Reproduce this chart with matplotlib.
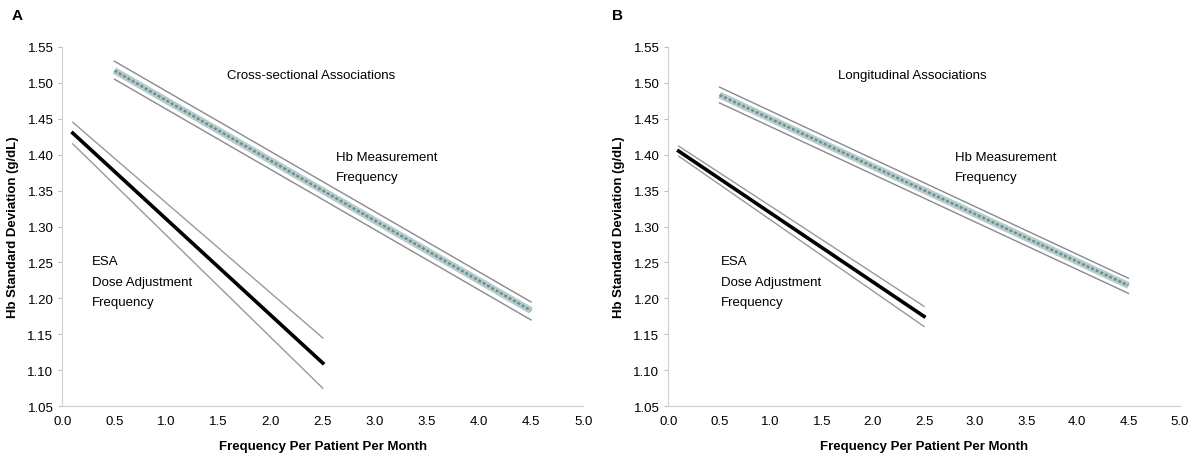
import matplotlib
matplotlib.use("Agg")
import matplotlib.pyplot as plt
import numpy as np

plt.rcParams['font.family'] = ['Liberation Sans', 'DejaVu Sans']

# Panel A: cross-sectional associations (x endpoints, fit, upper, lower)
a_hb_x = [0.5, 4.5]
a_hb_fit = [1.517, 1.183]
a_hb_hi = [1.530, 1.195]
a_hb_lo = [1.505, 1.170]
a_esa_x = [0.1, 2.5]
a_esa_fit = [1.430, 1.110]
a_esa_hi = [1.445, 1.145]
a_esa_lo = [1.415, 1.075]

# Panel B: longitudinal associations
b_hb_x = [0.5, 4.5]
b_hb_fit = [1.483, 1.218]
b_hb_hi = [1.494, 1.228]
b_hb_lo = [1.472, 1.207]
b_esa_x = [0.1, 2.5]
b_esa_fit = [1.405, 1.175]
b_esa_hi = [1.412, 1.189]
b_esa_lo = [1.398, 1.161]

x_ticks = np.arange(0, 5.01, 0.5)
y_ticks = np.arange(1.05, 1.551, 0.05)


def draw_panel(ax, title, hb, esa, hb_lab_x, esa_lab_x):
    hb_x, hb_fit, hb_hi, hb_lo = hb
    esa_x, esa_fit, esa_hi, esa_lo = esa

    # Hb measurement frequency: patterned line with CI
    ax.plot(hb_x, hb_hi, color='#8a8a8a', lw=1.0)
    ax.plot(hb_x, hb_lo, color='#8a8a8a', lw=1.0)
    ax.plot(hb_x, hb_fit, color='#b7cccc', lw=5, solid_capstyle='butt')
    ax.plot(hb_x, hb_fit, color='#6f8d8d', lw=1.8, ls=(0, (1.2, 0.8)))

    # ESA dose adjustment frequency
    ax.plot(esa_x, esa_hi, color='#999999', lw=1.0)
    ax.plot(esa_x, esa_lo, color='#999999', lw=1.0)
    ax.plot(esa_x, esa_fit, color='black', lw=2.6)

    ax.set_xlim(0, 5)
    ax.set_ylim(1.05, 1.55)
    ax.set_xticks(x_ticks)
    ax.set_yticks(y_ticks)
    ax.set_xticklabels([f"{v:.1f}" for v in x_ticks])
    ax.set_yticklabels([f"{v:.2f}" for v in y_ticks])
    for s in ['top', 'right']:
        ax.spines[s].set_visible(False)
    for s in ['left', 'bottom']:
        ax.spines[s].set_color('#d0d0d0')
    ax.tick_params(axis='both', colors='#c0c0c0', labelcolor='black', labelsize=9.5, length=3)
    ax.tick_params(axis='x', length=0, pad=6)
    ax.set_xlabel('Frequency Per Patient Per Month', fontsize=9.5, fontweight='bold', labelpad=10)
    ax.set_ylabel('Hb Standard Deviation (g/dL)', fontsize=9.5, fontweight='bold', labelpad=6)

    ax.text(2.39, 1.511, title, fontsize=9.5, ha='center', va='center')
    for y, line in zip([1.397, 1.369], ['Hb Measurement', 'Frequency']):
        ax.text(hb_lab_x, y, line, fontsize=9.5, va='center')
    for y, line in zip([1.252, 1.223, 1.195], ['ESA', 'Dose Adjustment', 'Frequency']):
        ax.text(esa_lab_x, y, line, fontsize=9.5, va='center')


fig = plt.figure(figsize=(12, 4.56), dpi=100)
ax1 = fig.add_axes([0.052, 0.107, 0.434, 0.788])
ax2 = fig.add_axes([0.557, 0.107, 0.426, 0.788])

draw_panel(ax1, 'Cross-sectional Associations',
           (a_hb_x, a_hb_fit, a_hb_hi, a_hb_lo),
           (a_esa_x, a_esa_fit, a_esa_hi, a_esa_lo), 2.63, 0.28)
draw_panel(ax2, 'Longitudinal Associations',
           (b_hb_x, b_hb_fit, b_hb_hi, b_hb_lo),
           (b_esa_x, b_esa_fit, b_esa_hi, b_esa_lo), 2.80, 0.51)

fig.text(0.010, 0.965, 'A', fontsize=11, fontweight='bold', va='center')
fig.text(0.510, 0.965, 'B', fontsize=11, fontweight='bold', va='center')

fig.savefig('out.png', dpi=100)
